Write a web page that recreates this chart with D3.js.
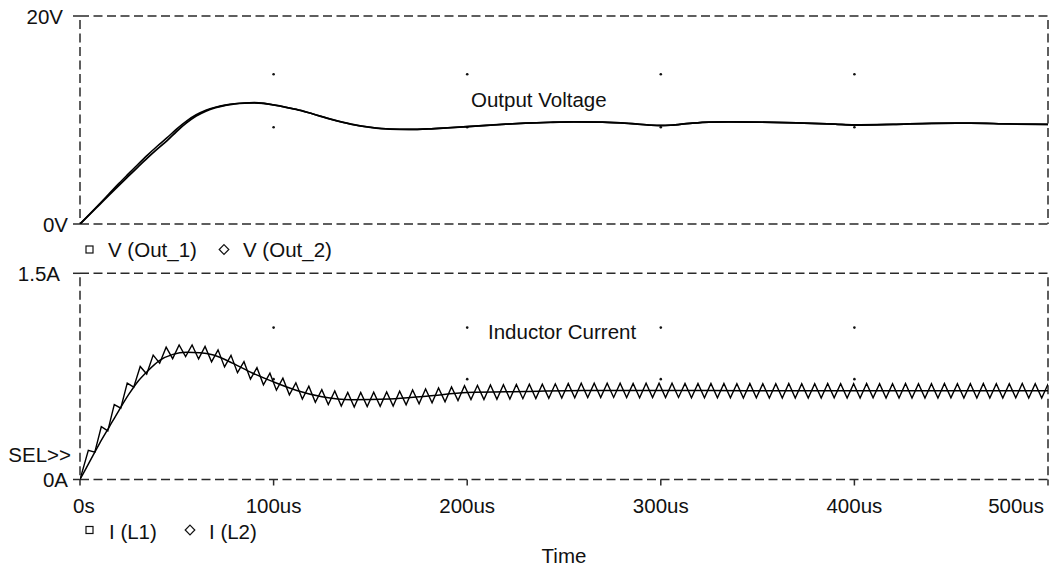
<!DOCTYPE html>
<html>
<head>
<meta charset="utf-8">
<script src="https://cdn.jsdelivr.net/npm/d3@7/dist/d3.min.js"></script>
<style>
  html, body { margin: 0; padding: 0; background: #ffffff; }
  svg { display: block; }
  text { font-family: "Liberation Sans", Arial, Helvetica, sans-serif; font-size: 20.5px; fill: #111; }
</style>
</head>
<body>
<svg id="chart" width="1052" height="570"></svg>
<script>
// ---------- data ----------
const timeTicks = [0, 100, 200, 300, 400, 500];
const timeTickLabels = ["0s", "100us", "200us", "300us", "400us", "500us"];
const voltTicks = [0, 20];
const voltTickLabels = ["0V", "20V"];
const currTicks = [0, 1.5];
const currTickLabels = ["0A", "1.5A"];
const gridTimes = [100, 200, 300, 400];
const voltGridDots = [14.4, 9.3];
const currGridDots = [1.105, 0.73];

const voltTitle = "Output Voltage";
const currTitle = "Inductor Current";
const voltLegend = ["V (Out_1)", "V (Out_2)"];
const currLegend = ["I (L1)", "I (L2)"];
const xAxisTitle = "Time";
const selLabel = "SEL>>";

const vTime = [0,5,10,15,20,25,30,35,40,45,50,55,60,65,70,75,80,85,90,95,100,107,114,120,130,140,150,160,170,180,190,200,210,220,230,243,255,270,285,295,300,305,315,325,335,350,370,390,400,420,440,460,480,500];
const vOut1 = [0,0.92,1.85,2.78,3.7,4.6,5.5,6.38,7.22,8.02,8.92,9.72,10.38,10.86,11.18,11.4,11.55,11.63,11.66,11.6,11.45,11.2,10.92,10.6,10.05,9.6,9.3,9.13,9.1,9.15,9.25,9.36,9.48,9.6,9.7,9.78,9.82,9.8,9.65,9.5,9.47,9.5,9.68,9.8,9.82,9.8,9.72,9.6,9.52,9.58,9.68,9.7,9.62,9.58];
const vOut2 = [0,0.95,1.92,2.9,3.88,4.82,5.75,6.65,7.5,8.3,9.15,9.9,10.5,10.94,11.23,11.43,11.56,11.63,11.66,11.6,11.45,11.2,10.92,10.6,10.05,9.6,9.3,9.13,9.1,9.15,9.25,9.36,9.48,9.6,9.7,9.78,9.82,9.8,9.65,9.5,9.47,9.5,9.68,9.8,9.82,9.8,9.72,9.6,9.52,9.58,9.68,9.7,9.62,9.58];

const iL1Time = [0,5,10,15,20,25,30,35,41,48,55,62,69,79,89,100,112,125,140,160,180,200,230,260,300,350,400,450,500];
const iL1 = [0,0.13,0.26,0.38,0.5,0.615,0.715,0.79,0.865,0.91,0.925,0.922,0.905,0.845,0.775,0.71,0.648,0.602,0.58,0.585,0.608,0.632,0.64,0.648,0.648,0.645,0.645,0.645,0.645];

const iL2 = [
  [0,0],
  [4.3,0.212],[7.65,0.199],[11.0,0.384],[14.35,0.354],[17.7,0.545],[21.05,0.519],
  [24.4,0.701],[27.75,0.672],[31.1,0.822],[34.45,0.767],[37.8,0.905],[41.15,0.846],
  [44.5,0.963],[47.85,0.879],[51.2,0.979],[54.55,0.894],[57.9,0.979],[61.25,0.877],
  [64.6,0.968],[67.95,0.856],[71.3,0.943],[74.65,0.819],[78.0,0.903],[81.35,0.777],
  [84.7,0.857],[88.05,0.730],[91.4,0.813],[94.75,0.689],[98.1,0.773],[101.45,0.650],
  [104.8,0.737],[108.15,0.616],[111.5,0.703],[114.85,0.586],[118.2,0.678],[121.55,0.562],
  [124.9,0.654],[128.25,0.545],[131.6,0.644],[134.95,0.535],[138.3,0.634],[141.65,0.528],
  [145.0,0.633],[148.35,0.530],[151.7,0.635],[155.05,0.532],[158.4,0.637],[161.75,0.535],
  [165.1,0.643],[168.45,0.543],[171.8,0.651],[175.15,0.550],[178.5,0.658],[181.85,0.558],
  [185.2,0.666],[188.55,0.566],[191.9,0.674],[195.25,0.574],[198.6,0.682],[201.95,0.581],
  [205.3,0.685],[208.65,0.582],[212.0,0.687],[215.35,0.584],[218.7,0.689],[222.05,0.586],
  [225.4,0.691],[228.75,0.588],[232.1,0.693],[235.45,0.589],[238.8,0.694],[242.15,0.591],
  [245.5,0.696],[248.85,0.593],[252.2,0.698],[255.55,0.595],[258.9,0.700],[262.25,0.596],
  [265.6,0.700],[268.95,0.596],[272.3,0.701],[275.65,0.597],[279.0,0.700],[282.35,0.596],
  [285.7,0.699],[289.05,0.595],[292.4,0.700],[295.75,0.596],[299.1,0.701],[302.45,0.596],
  [305.8,0.700],[309.15,0.597],[312.5,0.699],[315.85,0.595],[319.2,0.698],[322.55,0.594],
  [325.9,0.699],[329.25,0.595],[332.6,0.698],[335.95,0.594],[339.3,0.697],[342.65,0.593],
  [346.0,0.698],[349.35,0.594],[352.7,0.697],[356.05,0.593],[359.4,0.697],[362.75,0.593],
  [366.1,0.698],[369.45,0.592],[372.8,0.697],[376.15,0.593],[379.5,0.697],[382.85,0.593],
  [386.2,0.698],[389.55,0.594],[392.9,0.697],[396.25,0.593],[399.6,0.697],[402.95,0.593],
  [406.3,0.698],[409.65,0.594],[413.0,0.697],[416.35,0.593],[419.7,0.697],[423.05,0.593],
  [426.4,0.698],[429.75,0.592],[433.1,0.697],[436.45,0.593],[439.8,0.697],[443.15,0.593],
  [446.5,0.698],[449.85,0.594],[453.2,0.697],[456.55,0.593],[459.9,0.697],[463.25,0.593],
  [466.6,0.698],[469.95,0.593],[473.3,0.697],[476.65,0.593],[480.0,0.697],[483.35,0.594],
  [486.7,0.698],[490.05,0.593],[493.4,0.697],[496.75,0.593],[500.1,0.697]
];

// ---------- layout ----------
const svg = d3.select("#chart");
const X0 = 80, X1 = 1048;
const x = d3.scaleLinear().domain([0, 500]).range([X0, X1]);
const yV = d3.scaleLinear().domain([0, 20]).range([224, 16]);
const yI = d3.scaleLinear().domain([0, 1.5]).range([479.5, 273.3]);

const axisColor = "#2a2a2a";
const dash = "9,4.5";

const defs = svg.append("defs");
defs.append("clipPath").attr("id", "clipV").append("rect")
  .attr("x", X0).attr("y", yV(20)).attr("width", X1 - X0).attr("height", yV(0) - yV(20));
defs.append("clipPath").attr("id", "clipI").append("rect")
  .attr("x", X0).attr("y", yI(1.5)).attr("width", X1 - X0).attr("height", yI(0) - yI(1.5));

function panelFrame(y, ticks, labels, topLabelX, botLabelX) {
  const g = svg.append("g");
  const [d0, d1] = y.domain();
  [d0, d1].forEach(v => {
    g.append("line").attr("x1", X0).attr("x2", X1).attr("y1", y(v)).attr("y2", y(v))
      .attr("stroke", axisColor).attr("stroke-width", 1.5).attr("stroke-dasharray", dash);
  });
  [X0, X1].forEach(xx => {
    g.append("line").attr("x1", xx).attr("x2", xx).attr("y1", y(d1) + 4).attr("y2", y(d0))
      .attr("stroke", axisColor).attr("stroke-width", 1.5).attr("stroke-dasharray", dash);
  });
  ticks.forEach((v, i) => {
    g.append("line").attr("x1", X0 - 7).attr("x2", X0).attr("y1", y(v)).attr("y2", y(v))
      .attr("stroke", axisColor).attr("stroke-width", 1.5);
    g.append("text").attr("x", v === d1 ? topLabelX : botLabelX).attr("y", y(v) + 7.5)
      .attr("text-anchor", "end").text(labels[i]);
  });
  return g;
}

panelFrame(yV, voltTicks, voltTickLabels, 63, 68);
panelFrame(yI, currTicks, currTickLabels, 60, 68);

function gridDots(y, vals) {
  gridTimes.forEach(t => vals.forEach(v => {
    svg.append("circle").attr("cx", x(t)).attr("cy", y(v)).attr("r", 1.3).attr("fill", "#111");
  }));
}
gridDots(yV, voltGridDots);
gridDots(yI, currGridDots);

timeTicks.forEach((t, i) => {
  svg.append("line").attr("x1", x(t)).attr("x2", x(t)).attr("y1", yI(0)).attr("y2", yI(0) + 6)
    .attr("stroke", axisColor).attr("stroke-width", 1.5);
  const anchor = i === 0 ? "start" : (i === timeTicks.length - 1 ? "end" : "middle");
  const dx = i === 0 ? -7 : (i === timeTicks.length - 1 ? -4 : 0);
  svg.append("text").attr("x", x(t) + dx).attr("y", 513).attr("text-anchor", anchor).text(timeTickLabels[i]);
});

svg.append("text").attr("x", (X0 + X1) / 2).attr("y", 563).attr("text-anchor", "middle").text(xAxisTitle);
svg.append("text").attr("x", 71).attr("y", 461.5).attr("text-anchor", "end").text(selLabel);

svg.append("text").attr("x", 471).attr("y", 106.5).text(voltTitle);
svg.append("text").attr("x", 488).attr("y", 339).text(currTitle);

// ---------- series ----------
const gV = svg.append("g").attr("clip-path", "url(#clipV)");
const lineV = d3.line().x(d => x(d[0])).y(d => yV(d[1])).curve(d3.curveMonotoneX);
gV.append("path").datum(vTime.map((t, i) => [t, vOut1[i]])).attr("d", lineV)
  .attr("fill", "none").attr("stroke", "#000").attr("stroke-width", 1.8);
gV.append("path").datum(vTime.map((t, i) => [t, vOut2[i]])).attr("d", lineV)
  .attr("fill", "none").attr("stroke", "#000").attr("stroke-width", 1.6);

const gI = svg.append("g").attr("clip-path", "url(#clipI)");
const lineIs = d3.line().x(d => x(d[0])).y(d => yI(d[1])).curve(d3.curveMonotoneX);
const lineIz = d3.line().x(d => x(d[0])).y(d => yI(d[1]));
gI.append("path").datum(iL1Time.map((t, i) => [t, iL1[i]])).attr("d", lineIs)
  .attr("fill", "none").attr("stroke", "#000").attr("stroke-width", 1.5);
gI.append("path").datum(iL2).attr("d", lineIz)
  .attr("fill", "none").attr("stroke", "#000").attr("stroke-width", 1.4).attr("stroke-linejoin", "miter");

// ---------- legends ----------
function legend(yc, baseY, items, pos) {
  svg.append("rect").attr("x", pos[0] - 3.5).attr("y", yc - 3.5).attr("width", 7).attr("height", 7)
    .attr("fill", "none").attr("stroke", "#111").attr("stroke-width", 1.2);
  svg.append("text").attr("x", pos[1]).attr("y", baseY).text(items[0]);
  const cx = pos[2], s = 4.8;
  svg.append("path").attr("d", `M${cx},${yc - s}L${cx + s},${yc}L${cx},${yc + s}L${cx - s},${yc}Z`)
    .attr("fill", "none").attr("stroke", "#111").attr("stroke-width", 1.2);
  svg.append("text").attr("x", pos[3]).attr("y", baseY).text(items[1]);
}
legend(249.5, 257, voltLegend, [89.5, 108, 224, 243]);
legend(530, 539, currLegend, [89.5, 109, 190, 209]);
</script>
</body>
</html>
